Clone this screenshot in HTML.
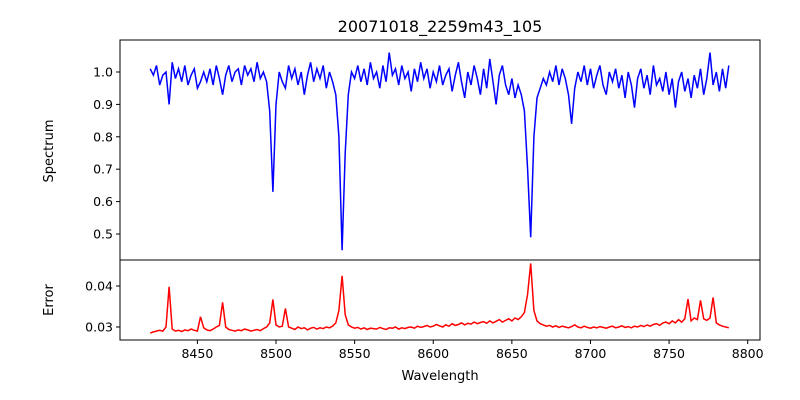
<!DOCTYPE html>
<html><head><meta charset="utf-8"><style>
body{margin:0;background:#fff}
svg{display:block;font-family:"DejaVu Sans","Liberation Sans",sans-serif}
</style></head><body>
<svg id="chart" width="800" height="400"></svg>
<script>
const waveStart = 8420;
const waveStep = 2;
const spectrum = [
1.01,0.99,1.02,0.96,0.99,1.00,0.90,1.03,0.98,1.01,
0.97,1.02,0.96,0.99,1.01,0.95,0.97,1.00,0.97,1.01,
0.96,1.02,0.98,0.93,0.99,1.02,0.97,1.00,1.01,0.96,
1.02,0.99,1.01,0.97,1.03,0.98,1.00,0.97,0.88,0.63,
0.90,1.00,0.97,0.95,1.02,0.98,1.01,0.96,1.00,0.93,
0.99,1.03,0.97,1.01,0.98,1.02,0.95,1.00,0.97,0.93,
0.80,0.45,0.75,0.93,1.00,0.98,1.02,0.97,1.01,0.96,
1.03,0.98,1.00,0.95,1.02,0.97,1.06,0.99,1.01,0.96,
1.02,0.98,1.00,0.94,1.01,0.97,1.03,0.98,1.01,0.95,
1.00,0.97,1.02,0.96,0.99,1.01,0.94,0.99,1.03,0.97,
0.92,1.00,0.96,1.02,0.98,0.93,1.01,0.95,1.04,0.97,
0.90,0.99,1.02,0.96,0.93,0.98,0.92,0.96,0.93,0.88,
0.70,0.49,0.80,0.92,0.95,0.98,0.96,1.00,0.97,1.02,
0.96,1.01,0.98,0.93,0.84,0.95,1.00,0.97,1.02,0.96,
1.01,0.95,0.99,1.02,0.96,0.93,1.00,0.97,1.01,0.95,
0.99,0.92,1.00,0.96,0.89,0.98,1.01,0.95,0.99,0.93,
1.02,0.96,0.98,0.94,1.00,0.93,0.98,0.89,0.97,1.00,
0.94,0.98,0.92,0.99,0.95,1.01,0.93,0.98,1.06,0.96,
1.00,0.94,1.01,0.95,1.02];
const errorVals = [
.0285,.0288,.0290,.0292,.0290,.0300,.0398,.0295,.0290,.0292,
.0289,.0293,.0291,.0295,.0292,.0290,.0325,.0298,.0293,.0291,
.0295,.0300,.0304,.0360,.0300,.0294,.0292,.0290,.0293,.0291,
.0295,.0293,.0290,.0292,.0294,.0291,.0296,.0300,.0310,.0367,
.0305,.0300,.0302,.0345,.0300,.0297,.0294,.0300,.0296,.0298,
.0293,.0297,.0299,.0295,.0298,.0296,.0300,.0298,.0302,.0310,
.0340,.0425,.0330,.0305,.0300,.0297,.0299,.0295,.0298,.0294,
.0297,.0296,.0295,.0299,.0296,.0294,.0298,.0297,.0300,.0295,
.0298,.0296,.0299,.0300,.0297,.0302,.0299,.0301,.0304,.0300,
.0302,.0306,.0303,.0300,.0305,.0302,.0308,.0304,.0306,.0310,
.0305,.0309,.0307,.0312,.0308,.0311,.0313,.0309,.0315,.0310,
.0314,.0318,.0312,.0316,.0320,.0315,.0322,.0318,.0325,.0335,
.0380,.0455,.0340,.0315,.0308,.0305,.0302,.0304,.0300,.0303,
.0299,.0302,.0300,.0298,.0301,.0305,.0300,.0298,.0302,.0299,
.0297,.0300,.0298,.0301,.0299,.0297,.0300,.0302,.0298,.0300,
.0303,.0299,.0301,.0298,.0302,.0300,.0304,.0301,.0305,.0302,
.0306,.0308,.0304,.0310,.0312,.0308,.0315,.0310,.0318,.0312,
.0320,.0368,.0315,.0322,.0318,.0365,.0320,.0316,.0322,.0372,
.0310,.0305,.0302,.0300,.0298];
const xTicks = [8450,8500,8550,8600,8650,8700,8750,8800];
const specTicks = [0.5,0.6,0.7,0.8,0.9,1.0];
const errTicks = [0.03,0.04];

const NS = "http://www.w3.org/2000/svg";
const svg = document.getElementById('chart');
function mk(tag, attrs, parent){const e=document.createElementNS(NS,tag);for(const k in attrs)e.setAttribute(k,attrs[k]);(parent||svg).appendChild(e);return e;}
const L=120,R=760,T1=40,B1=260,T2=260,B2=340;
const xS = w => 197.4 + (w-8450)*(550.3/350);
const yS = v => 72 + (1-v)*324;
const yE = v => 327 - (v-0.03)*4100;

let t = mk('text',{x:440,y:32,'text-anchor':'middle','font-size':16,fill:'#000'});


t.textContent='20071018_2259m43_105';

const defs = mk('defs',{});
const c1 = mk('clipPath',{id:'c1'},defs); mk('rect',{x:L,y:T1,width:R-L,height:B1-T1},c1);
const c2 = mk('clipPath',{id:'c2'},defs); mk('rect',{x:L,y:T2,width:R-L,height:B2-T2},c2);

let d='';
spectrum.forEach((v,i)=>{d+=(i?'L':'M')+xS(waveStart+i*waveStep).toFixed(1)+' '+yS(v).toFixed(1);});
const sl = mk('path',{d:d,fill:'none',stroke:'#0000ff','stroke-width':1.5,'clip-path':'url(#c1)'});



d='';
errorVals.forEach((v,i)=>{d+=(i?'L':'M')+xS(waveStart+i*waveStep).toFixed(1)+' '+yE(v).toFixed(1);});
const el = mk('path',{d:d,fill:'none',stroke:'#ff0000','stroke-width':1.5,'clip-path':'url(#c2)'});



const f1 = mk('rect',{x:L,y:T1,width:R-L,height:B1-T1,fill:'none',stroke:'#000','stroke-width':1});


const f2 = mk('rect',{x:L,y:T2,width:R-L,height:B2-T2,fill:'none',stroke:'#000','stroke-width':1});



xTicks.forEach(w=>{
  const x=xS(w);
  mk('line',{x1:x,x2:x,y1:B2,y2:B2+4,stroke:'#000'});
  const tx=mk('text',{x:x,y:B2+18,'text-anchor':'middle','font-size':12.5,fill:'#000'});
  
  
  tx.textContent=w;
});
specTicks.forEach(v=>{
  const y=yS(v);
  mk('line',{x1:L-4,x2:L,y1:y,y2:y,stroke:'#000'});
  const tx=mk('text',{x:L-7,y:y+4.5,'text-anchor':'end','font-size':12.5,fill:'#000'});
  
  
  tx.textContent=v.toFixed(1);
});
errTicks.forEach(v=>{
  const y=yE(v);
  mk('line',{x1:L-4,x2:L,y1:y,y2:y,stroke:'#000'});
  const tx=mk('text',{x:L-7,y:y+4.5,'text-anchor':'end','font-size':12.5,fill:'#000'});
  
  
  tx.textContent=v.toFixed(2);
});

let a=mk('text',{x:440,y:380,'text-anchor':'middle','font-size':13,fill:'#000'});


a.textContent='Wavelength';
a=mk('text',{x:0,y:0,'text-anchor':'middle','font-size':13,fill:'#000',transform:'translate(53,151) rotate(-90)'});


a.textContent='Spectrum';
a=mk('text',{x:0,y:0,'text-anchor':'middle','font-size':13,fill:'#000',transform:'translate(53,300) rotate(-90)'});


a.textContent='Error';
</script>
</body></html>
